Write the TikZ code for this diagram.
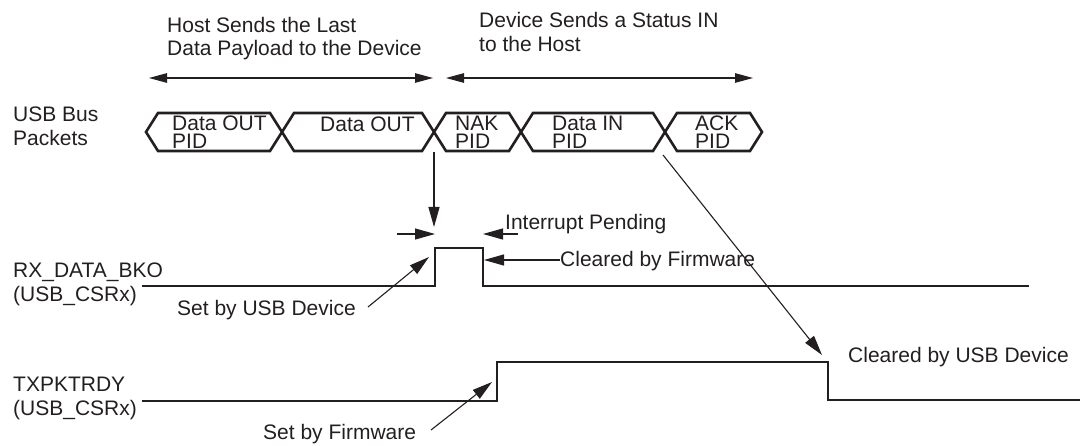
\documentclass[tikz,border=0pt]{standalone}
\usepackage{fontspec}
\setmainfont{Liberation Sans}
\usetikzlibrary{arrows.meta}
\definecolor{ink}{HTML}{231F20}
\newcommand\tp{\rule{0pt}{16pt}}
\begin{document}
\begin{tikzpicture}[x=1pt,y=-1pt,
  lbl/.style={font=\fontsize{21}{23.5}\selectfont, inner sep=0pt, text=ink},
  multi/.style={lbl, align=left, anchor=north west},
  one/.style={lbl, anchor=base west},
  pkttxt/.style={font=\fontsize{21}{18}\selectfont, inner sep=0pt, text=ink, align=left, anchor=north west},
  pkt/.style={line width=2.6pt, draw=ink, line join=miter},
  sig/.style={line width=2.6pt, draw=ink, line join=miter},
  thin/.style={line width=1.1pt, draw=ink},
  ptr/.style={thin, -{Triangle[length=20pt,width=11pt]}},
  span/.style={thin, {Triangle[length=18pt,width=9.5pt]}-{Triangle[length=18pt,width=9.5pt]}},
]
\useasboundingbox (0,0) rectangle (1086,446);

% ---- top phase labels and spans
\node[multi] (host) at (167,16) {\tp Host Sends the Last\\Data Payload to the Device};
\node[multi] (dev) at (479,11.5) {\tp Device Sends a Status IN\\to the Host};
\coordinate (s1a) at (149,78); \coordinate (s1b) at (433,78);
\coordinate (s2a) at (446,78); \coordinate (s2b) at (753,78);
\draw[span] (s1a) -- (s1b);
\draw[span] (s2a) -- (s2b);

% ---- bus packets
\node[multi] (bus) at (13,105.7) {\tp USB Bus\\Packets};
\def\d{12}
\foreach \a/\b in {146/282, 282/434, 434/521, 521/665, 665/762}{
  \draw[pkt] (\a,132) -- (\a+\d,113) -- (\b-\d,113) -- (\b,132) -- (\b-\d,151) -- (\a+\d,151) -- cycle;
}
\node[pkttxt] (p1) at (172,114.5) {\tp Data OUT\\PID};
\node[pkttxt] (p2) at (320,115) {\tp Data OUT};
\node[pkttxt] (p3) at (455,114.5) {\tp NAK\\PID};
\node[pkttxt] (p4) at (552,114.5) {\tp Data IN\\PID};
\node[pkttxt] (p5) at (695,114.5) {\tp ACK\\PID};

% ---- signal labels
\node[multi] (rx) at (13,261.3) {\tp RX\_DATA\_BKO\\(USB\_CSRx)};
\node[multi] (tx) at (13,375.7) {\tp TXPKTRDY\\(USB\_CSRx)};

% ---- signals
\draw[sig] (142,286) -- (435,286) -- (435,248) -- (483,248) -- (483,286) -- (1029,286);
\draw[sig] (142,401) -- (497,401) -- (497,362) -- (828,362) -- (828,400) -- (1080,400);

% ---- annotations
\node[one] (ip) at (505,230) {Interrupt Pending};
\node[one] (cbf) at (560,266) {Cleared by Firmware};
\node[one] (sud) at (177,315) {Set by USB Device};
\node[one] (sbf) at (263,439) {Set by Firmware};
\node[one] (cud) at (848,362.7) {Cleared by USB Device};

\coordinate (nakx) at (434,152);
\coordinate (downtip) at (434,227);
\draw[ptr] (nakx) -- (downtip);

\coordinate (ipl) at (397,234); \coordinate (ipltip) at (435,234);
\coordinate (ipr) at (518,234); \coordinate (iprtip) at (483,234);
\draw[ptr] (ipl) -- (ipltip);
\draw[ptr] (ipr) -- (iprtip);

\coordinate (cbftip) at (484,260);
\draw[ptr] (cbf.west |- 0,260) -- (cbftip);

\coordinate (sudtail) at (368,307); \coordinate (sudtip) at (429,257);
\draw[ptr] (sudtail) -- (sudtip);

\coordinate (sbftail) at (431,430); \coordinate (sbftip) at (492,382);
\draw[ptr] (sbftail) -- (sbftip);

\coordinate (ackx) at (663,155); \coordinate (cudtip) at (822,355);
\draw[ptr] (ackx) -- (cudtip);
\end{tikzpicture}
\end{document}
